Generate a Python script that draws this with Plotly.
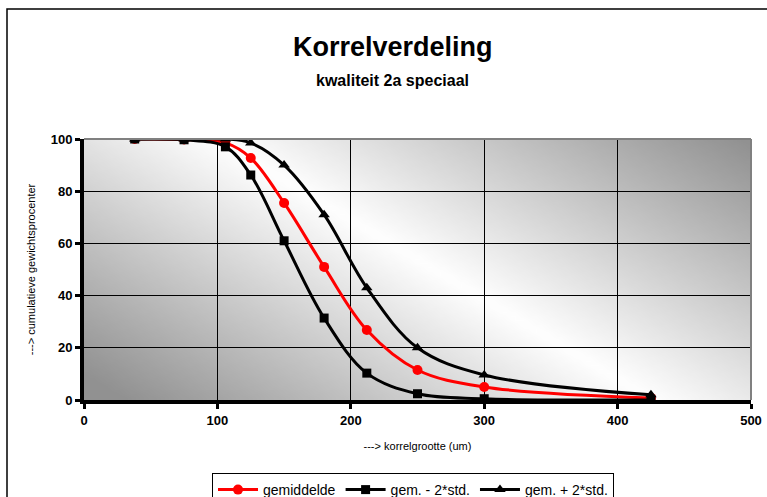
import base64, struct, zlib
import numpy as np
import plotly.graph_objects as go

# ---- data ----
korrelgrootte = [38, 75, 106, 125, 150, 180, 212, 250, 300, 425]
gemiddelde = [100, 99.8, 98.5, 92.7, 75.5, 51, 26.8, 11.5, 5, 0.8]
gem_min_2std = [100, 99.7, 97, 86.2, 61, 31.4, 10.3, 2.4, 0.5, 0]
gem_plus_2std = [100, 100, 100, 98.5, 90, 71, 43, 20, 9.6, 2]
x_ticks = [0, 100, 200, 300, 400, 500]
y_ticks = [0, 20, 40, 60, 80, 100]

FONT = "Arial, Liberation Sans, sans-serif"

# ---- background gradient image (style only) ----
def gradient_png(w=160, h=64):
    u = np.linspace(0, 1, w)[None, :]
    v = np.linspace(0, 1, h)[:, None]
    t = np.abs(u - 0.2 - 0.65 * v) / 0.8
    t = np.clip(t, 0, 1)
    img = (255 - 110 * t).astype(np.uint8)
    raw = b"".join(b"\x00" + row.tobytes() for row in img)
    def chunk(tag, data):
        c = struct.pack(">I", len(data)) + tag + data
        return c + struct.pack(">I", zlib.crc32(tag + data) & 0xffffffff)
    png = b"\x89PNG\r\n\x1a\n" + chunk(b"IHDR", struct.pack(">IIBBBBB", w, h, 8, 0, 0, 0, 0)) \
        + chunk(b"IDAT", zlib.compress(raw, 9)) + chunk(b"IEND", b"")
    return "data:image/png;base64," + base64.b64encode(png).decode()

fig = go.Figure()
fig.add_trace(go.Scatter(x=korrelgrootte, y=gemiddelde, name="gemiddelde", mode="lines+markers",
                         line=dict(color="#ff0000", width=3, shape="spline", smoothing=1),
                         marker=dict(symbol="circle", size=10, color="#ff0000")))
fig.add_trace(go.Scatter(x=korrelgrootte, y=gem_min_2std, name="gem. - 2*std.", mode="lines+markers",
                         line=dict(color="#000000", width=3, shape="spline", smoothing=1),
                         marker=dict(symbol="square", size=9, color="#000000")))
fig.add_trace(go.Scatter(x=korrelgrootte, y=gem_plus_2std, name="gem. + 2*std.", mode="lines+markers",
                         line=dict(color="#000000", width=3, shape="spline", smoothing=1),
                         marker=dict(symbol="triangle-up", size=10, color="#000000")))

fig.update_layout(
    width=767, height=497,
    margin=dict(l=84, r=16, t=139, b=97, autoexpand=False),
    paper_bgcolor="white", plot_bgcolor="rgba(0,0,0,0)",
    font=dict(family=FONT, color="black"),
    showlegend=True,
    legend=dict(orientation="h", xref="container", yref="container",
                x=413 / 767, xanchor="center", y=1 - 473 / 497, yanchor="top",
                bordercolor="black", borderwidth=1, bgcolor="white",
                font=dict(size=14, family=FONT), itemwidth=40, tracegroupgap=0),
    images=[dict(source=gradient_png(), xref="x", yref="y", x=0, y=100, sizex=500, sizey=100,
                 sizing="stretch", layer="below", xanchor="left", yanchor="top")],
    shapes=[
        dict(type="line", xref="paper", yref="paper", x0=0, x1=1, y0=1, y1=1,
             line=dict(color="#808080", width=2)),
        dict(type="line", xref="paper", yref="paper", x0=1, x1=1, y0=0, y1=1,
             line=dict(color="#808080", width=2)),
        dict(type="rect", xref="paper", yref="paper", x0=-77 / 667, x1=1.2, y0=-0.6, y1=391 / 261,
             line=dict(color="black", width=1.5), layer="below"),
    ],
    annotations=[
        dict(text="<b>Korrelverdeling</b>", xref="paper", yref="paper", x=0.463, y=(400 - 47) / 261,
             xanchor="center", yanchor="middle", showarrow=False, font=dict(size=27, family=FONT)),
        dict(text="<b>kwaliteit 2a speciaal</b>", xref="paper", yref="paper", x=0.463, y=(400 - 81) / 261,
             xanchor="center", yanchor="middle", showarrow=False, font=dict(size=16, family=FONT)),
    ],
)

fig.update_xaxes(range=[0, 500], tickvals=x_ticks, ticktext=[f"<b>{v}</b>" for v in x_ticks],
                 showgrid=True, gridcolor="black", gridwidth=1, zeroline=False, automargin=False,
                 showline=True, linecolor="black", linewidth=4,
                 ticks="outside", ticklen=5, tickwidth=3, tickcolor="black",
                 tickfont=dict(size=13, family=FONT),
                 title=dict(text="---> korrelgrootte (um)", font=dict(size=11, family=FONT), standoff=17))
fig.update_yaxes(range=[0, 100], tickvals=y_ticks, ticktext=[f"<b>{v}</b>" for v in y_ticks],
                 showgrid=True, gridcolor="black", gridwidth=1, zeroline=False, automargin=False,
                 showline=True, linecolor="black", linewidth=4,
                 ticks="outside", ticklen=5, tickwidth=3, tickcolor="black",
                 tickfont=dict(size=13, family=FONT),
                 title=dict(text="---> cumulatieve gewichtsprocenter", font=dict(size=11, family=FONT), standoff=14))

fig.write_html("out.html", config={"displayModeBar": False},
               post_script="document.body.style.margin='0';document.body.style.overflow='hidden';")
